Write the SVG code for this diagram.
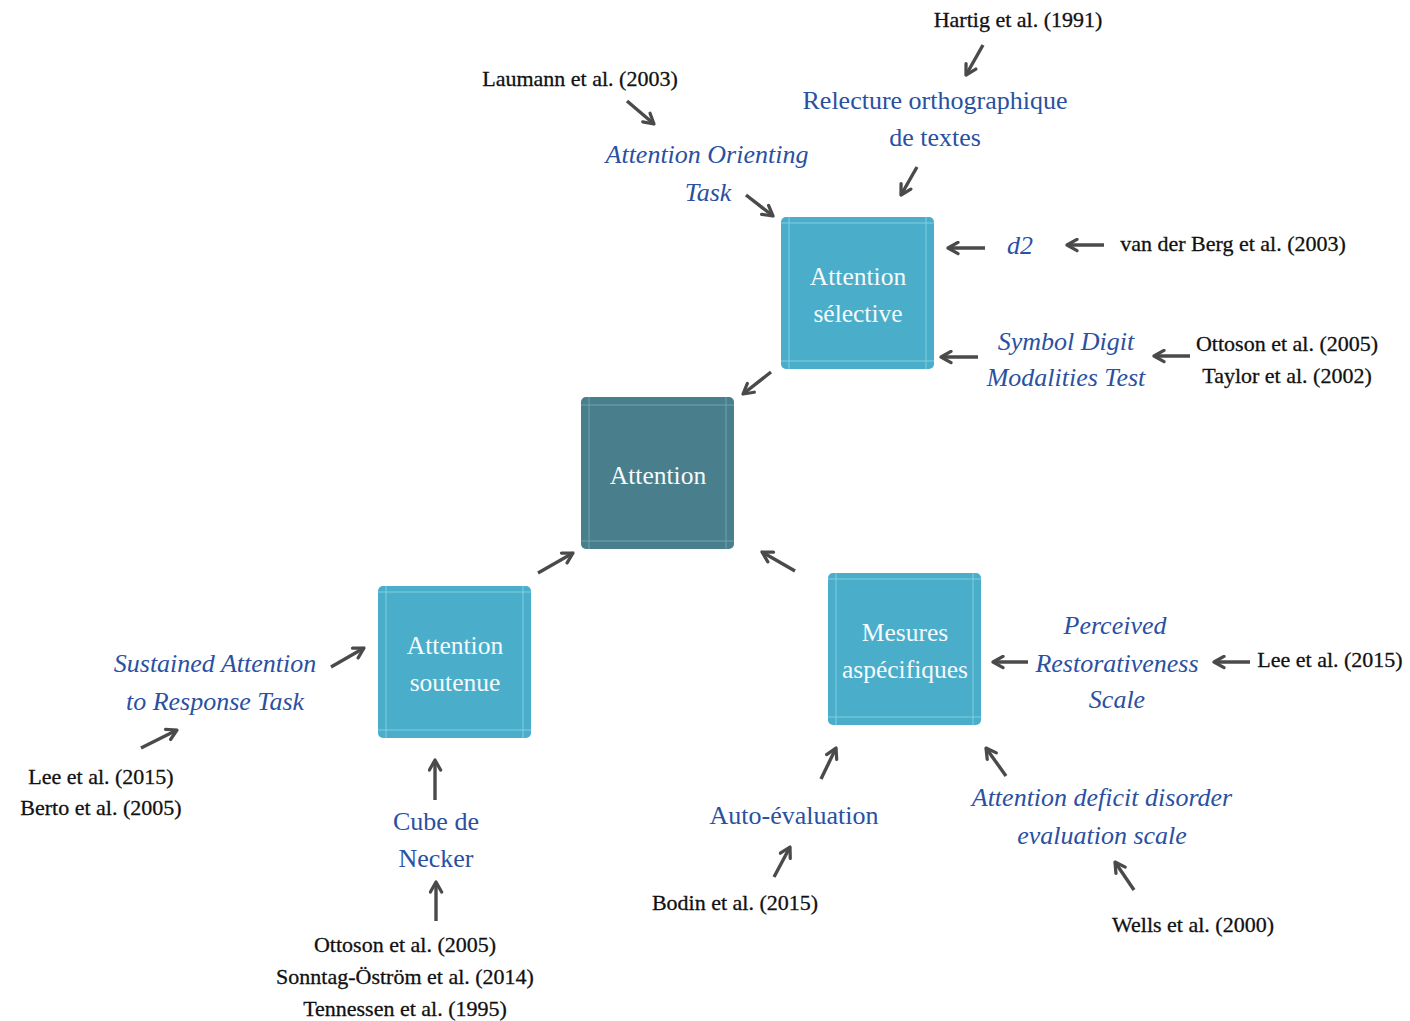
<svg xmlns="http://www.w3.org/2000/svg" width="1410" height="1021" viewBox="0 0 1410 1021">
<defs>
<style>
.box{fill:#4aaecb;}
.boxd{fill:#497f8c;}
.inl{stroke:#8fd6e6;stroke-width:1;fill:none;opacity:0.8;}
.inld{stroke:#79aab5;stroke-width:1;fill:none;opacity:0.8;}
.nt{font-family:"Liberation Serif","Times New Roman",serif;font-size:25.5px;fill:#f6fafb;text-anchor:middle;}
.bl{font-family:"Liberation Serif","Times New Roman",serif;font-size:26px;fill:#2a50a2;text-anchor:middle;}
.bi{font-family:"Liberation Serif","Times New Roman",serif;font-size:26px;font-style:italic;fill:#2a50a2;text-anchor:middle;}
.ref{font-family:"Liberation Serif","Times New Roman",serif;font-size:22px;fill:#111;text-anchor:middle;stroke:#111;stroke-width:0.3;}
.c{stroke:#4a4a4a;stroke-width:3.4;fill:none;marker-end:url(#ah);}
</style>
<marker id="ah" viewBox="0 0 12 12" refX="10" refY="6" markerWidth="15" markerHeight="15" markerUnits="userSpaceOnUse" orient="auto">
<path d="M2,1.5 L10,6 L2,10.5" fill="none" stroke="#4a4a4a" stroke-width="2.6" stroke-linecap="round" stroke-linejoin="round"/>
</marker>
</defs>
<rect width="1410" height="1021" fill="#ffffff"/>

<g id="connectors">
<line class="c" x1="983" y1="45" x2="966" y2="75"/>
<line class="c" x1="627" y1="101" x2="654" y2="124"/>
<line class="c" x1="917" y1="167" x2="901" y2="195"/>
<line class="c" x1="746" y1="195" x2="773" y2="216"/>
<line class="c" x1="985" y1="248" x2="948" y2="248"/>
<line class="c" x1="1104" y1="245" x2="1067" y2="245"/>
<line class="c" x1="978" y1="357" x2="941" y2="357"/>
<line class="c" x1="1190" y1="356" x2="1154" y2="356"/>
<line class="c" x1="771" y1="372" x2="743" y2="394"/>
<line class="c" x1="538" y1="573" x2="573" y2="553"/>
<line class="c" x1="795" y1="571" x2="762" y2="552"/>
<line class="c" x1="331" y1="667" x2="364" y2="648"/>
<line class="c" x1="141" y1="748" x2="177" y2="730"/>
<line class="c" x1="435" y1="800" x2="435" y2="760"/>
<line class="c" x1="436" y1="921" x2="436" y2="882"/>
<line class="c" x1="1028" y1="662" x2="993" y2="662"/>
<line class="c" x1="1250" y1="662" x2="1214" y2="662"/>
<line class="c" x1="821" y1="779" x2="836" y2="748"/>
<line class="c" x1="774" y1="877" x2="790" y2="847"/>
<line class="c" x1="1006" y1="776" x2="986" y2="748"/>
<line class="c" x1="1134" y1="890" x2="1115" y2="862"/>
</g>

<g id="n-attention">
<rect class="boxd" x="581" y="397" width="153" height="152" rx="5"/>
<path class="inld" d="M589,397 V549 M726,397 V549 M581,405 H734 M581,541 H734"/>
<text class="nt" x="658" y="484">Attention</text>
</g>

<g id="n-selective">
<rect class="box" x="781" y="217" width="153" height="152" rx="5"/>
<path class="inl" d="M789,217 V369 M926,217 V369 M781,223 H934 M781,361 H934"/>
<text class="nt" x="858" y="285">Attention</text>
<text class="nt" x="858" y="322">sélective</text>
</g>

<g id="n-soutenue">
<rect class="box" x="378" y="586" width="153" height="152" rx="5"/>
<path class="inl" d="M386,586 V738 M523,586 V738 M378,592 H531 M378,730 H531"/>
<text class="nt" x="455" y="654">Attention</text>
<text class="nt" x="455" y="691">soutenue</text>
</g>

<g id="n-mesures">
<rect class="box" x="828" y="573" width="153" height="152" rx="5"/>
<path class="inl" d="M836,573 V725 M973,573 V725 M828,579 H981 M828,717 H981"/>
<text class="nt" x="905" y="641">Mesures</text>
<text class="nt" x="905" y="678">aspécifiques</text>
</g>

<g id="l-hartig"><text class="ref" x="1018" y="27">Hartig et al. (1991)</text></g>
<g id="l-laumann"><text class="ref" x="580" y="86">Laumann et al. (2003)</text></g>
<g id="l-relecture">
<text class="bl" x="935" y="109">Relecture orthographique</text>
<text class="bl" x="935" y="146">de textes</text>
</g>
<g id="l-orienting">
<text class="bi" x="707" y="163">Attention Orienting</text>
<text class="bi" x="708" y="201">Task</text>
</g>
<g id="l-d2"><text class="bi" x="1020" y="254">d2</text></g>
<g id="l-vanderberg"><text class="ref" x="1233" y="251">van der Berg et al. (2003)</text></g>
<g id="l-symbol">
<text class="bi" x="1066" y="350">Symbol Digit</text>
<text class="bi" x="1066" y="386">Modalities Test</text>
</g>
<g id="l-ottoson-taylor">
<text class="ref" x="1287" y="351">Ottoson et al. (2005)</text>
<text class="ref" x="1287" y="383">Taylor et al. (2002)</text>
</g>
<g id="l-sustained">
<text class="bi" x="215" y="672">Sustained Attention</text>
<text class="bi" x="215" y="710">to Response Task</text>
</g>
<g id="l-lee-berto">
<text class="ref" x="101" y="784">Lee et al. (2015)</text>
<text class="ref" x="101" y="815">Berto et al. (2005)</text>
</g>
<g id="l-cube">
<text class="bl" x="436" y="830">Cube de</text>
<text class="bl" x="436" y="867">Necker</text>
</g>
<g id="l-ottoson-sonntag">
<text class="ref" x="405" y="952">Ottoson et al. (2005)</text>
<text class="ref" x="405" y="984">Sonntag-Öström et al. (2014)</text>
<text class="ref" x="405" y="1016">Tennessen et al. (1995)</text>
</g>
<g id="l-auto"><text class="bl" x="794" y="824">Auto-évaluation</text></g>
<g id="l-bodin"><text class="ref" x="735" y="910">Bodin et al. (2015)</text></g>
<g id="l-add">
<text class="bi" x="1102" y="806">Attention deficit disorder</text>
<text class="bi" x="1102" y="844">evaluation scale</text>
</g>
<g id="l-wells"><text class="ref" x="1193" y="932">Wells et al. (2000)</text></g>
<g id="l-prs">
<text class="bi" x="1115" y="634">Perceived</text>
<text class="bi" x="1117" y="672">Restorativeness</text>
<text class="bi" x="1117" y="708">Scale</text>
</g>
<g id="l-lee"><text class="ref" x="1330" y="667">Lee et al. (2015)</text></g>
</svg>
